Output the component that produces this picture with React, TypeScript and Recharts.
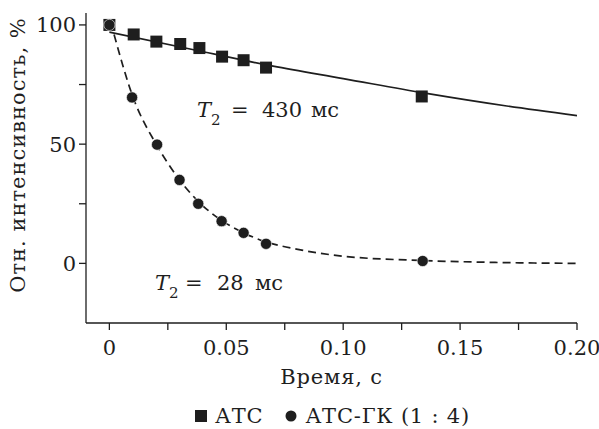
import { ComposedChart, Line, Scatter, XAxis, YAxis, Legend, Label } from "recharts";

const FONT = "'DejaVu Serif', serif";
const INK = "#1e1e1e";

// measured points, АТС (squares)
const atcTime = [0, 0.0104, 0.0201, 0.0303, 0.0385, 0.0482, 0.0574, 0.067, 0.1336];
const atcValue = [100, 96, 93, 92, 90.3, 86.7, 85.2, 82.1, 70];

// measured points, АТС-ГК (1 : 4) (circles)
const gkTime = [0, 0.0097, 0.0204, 0.03, 0.038, 0.048, 0.0574, 0.067, 0.134];
const gkValue = [100, 69.6, 49.8, 35, 25, 17.7, 12.8, 8.2, 1];

// fit curves
const fitSlowTime = [0, 0.035, 0.07, 0.1, 0.135, 0.17, 0.2];
const fitSlowValue = [97, 89.8, 82.7, 77.5, 71.4, 66, 62];

const fitFastTime = [0.002, 0.01, 0.02, 0.025, 0.03, 0.038, 0.048, 0.057, 0.067, 0.08, 0.1, 0.134, 0.165, 0.2];
const fitFastValue = [96, 70, 50, 42, 35, 26, 18, 13, 9, 6, 3, 1.2, 0.4, 0];

const xTicks = [0, 0.025, 0.05, 0.075, 0.1, 0.125, 0.15, 0.175, 0.2];
const yTicks = [0, 25, 50, 75, 100];

const seriesNames = ["АТС", "АТС-ГК (1 : 4)"];

const zip = (t: number[], v: number[]) => t.map((x, i) => ({ t: x, v: v[i] }));

const atcData = zip(atcTime, atcValue);
const gkData = zip(gkTime, gkValue);
const slowData = zip(fitSlowTime, fitSlowValue);
const fastData = zip(fitFastTime, fitFastValue);

const fmtX = (v: number) => {
  const k = Math.round(v * 1000);
  if (k % 50 !== 0) return "";
  return k === 0 ? "0" : v.toFixed(2);
};
const fmtY = (v: number) => (v % 50 === 0 ? String(v) : "");

const Square = (p: any) => (
  <rect x={p.cx - 6} y={p.cy - 6} width={12} height={12} fill={INK} />
);
const Dot = (p: any) => (
  <circle cx={p.cx} cy={p.cy} r={5.6} fill={INK} stroke="#fff" strokeWidth={0.6} />
);

const tickStyle = { fill: INK, fontSize: 21, fontFamily: FONT };

function LegendRow() {
  const txt = { fontFamily: FONT, fontSize: 21, color: INK, letterSpacing: 0.8 };
  return (
    <div
      style={{
        height: 30,
        display: "flex",
        justifyContent: "center",
        alignItems: "center",
        paddingLeft: 58,
        paddingTop: 3,
        boxSizing: "border-box",
      }}
    >
      <svg width={12} height={12} style={{ marginRight: 8 }}>
        <rect x={0} y={0} width={12} height={12} fill={INK} />
      </svg>
      <span style={txt}>{seriesNames[0]}</span>
      <svg width={12} height={12} style={{ marginLeft: 22, marginRight: 8 }}>
        <circle cx={6} cy={6} r={5.5} fill={INK} />
      </svg>
      <span style={txt}>{seriesNames[1]}</span>
    </div>
  );
}

export default function App() {
  return (
    <div style={{ position: "absolute", left: 0, top: 0, width: 599, height: 429, background: "#fff" }}>
      <ComposedChart width={599} height={429} margin={{ top: 13, right: 22, bottom: 0, left: 30 }}>
        <XAxis
          type="number"
          dataKey="t"
          domain={[-0.01, 0.2]}
          ticks={xTicks}
          tickFormatter={fmtX}
          allowDataOverflow
          height={76}
          tickSize={7}
          tickMargin={10}
          stroke={INK}
          strokeWidth={1.3}
          tick={tickStyle}
          interval={0}
        >
          <Label
            value="Время, с"
            position="insideBottom"
            offset={15}
            style={{ fill: INK, fontSize: 21, fontFamily: FONT, letterSpacing: 0.8 }}
          />
        </XAxis>
        <YAxis
          type="number"
          domain={[-25, 105]}
          ticks={yTicks}
          tickFormatter={fmtY}
          allowDataOverflow
          width={56}
          tickSize={7}
          tickMargin={3}
          stroke={INK}
          strokeWidth={1.3}
          tick={tickStyle}
          interval={0}
        />
        <Line
          data={slowData}
          dataKey="v"
          type="monotone"
          stroke={INK}
          strokeWidth={1.7}
          dot={false}
          legendType="none"
          isAnimationActive={false}
        />
        <Line
          data={fastData}
          dataKey="v"
          type="monotone"
          stroke={INK}
          strokeWidth={1.7}
          strokeDasharray="8 5"
          dot={false}
          legendType="none"
          isAnimationActive={false}
        />
        <Scatter name={seriesNames[0]} data={atcData} dataKey="v" shape={Square} isAnimationActive={false} />
        <Scatter name={seriesNames[1]} data={gkData} dataKey="v" shape={Dot} isAnimationActive={false} />
        <Legend verticalAlign="bottom" height={30} content={() => <LegendRow />} />
      </ComposedChart>

      <svg
        width={599}
        height={429}
        style={{ position: "absolute", left: 0, top: 0, pointerEvents: "none" }}
        fontFamily={FONT}
        fill={INK}
      >
        <text
          x={25}
          y={155}
          fontSize={21}
          letterSpacing={1}
          textAnchor="middle"
          transform="rotate(-90 25 155)"
        >
          Отн. интенсивность, %
        </text>

        <text y={117} fontSize={21}>
          <tspan x={197} fontStyle="italic">T</tspan>
          <tspan x={211} y={125} fontSize={15}>2</tspan>
          <tspan x={231} y={117}>=</tspan>
          <tspan x={262}>430</tspan>
          <tspan x={311}>мс</tspan>
        </text>

        <text y={290} fontSize={21}>
          <tspan x={155} fontStyle="italic">T</tspan>
          <tspan x={169} y={298} fontSize={15}>2</tspan>
          <tspan x={185} y={290}>=</tspan>
          <tspan x={217}>28</tspan>
          <tspan x={255}>мс</tspan>
        </text>
      </svg>
    </div>
  );
}
